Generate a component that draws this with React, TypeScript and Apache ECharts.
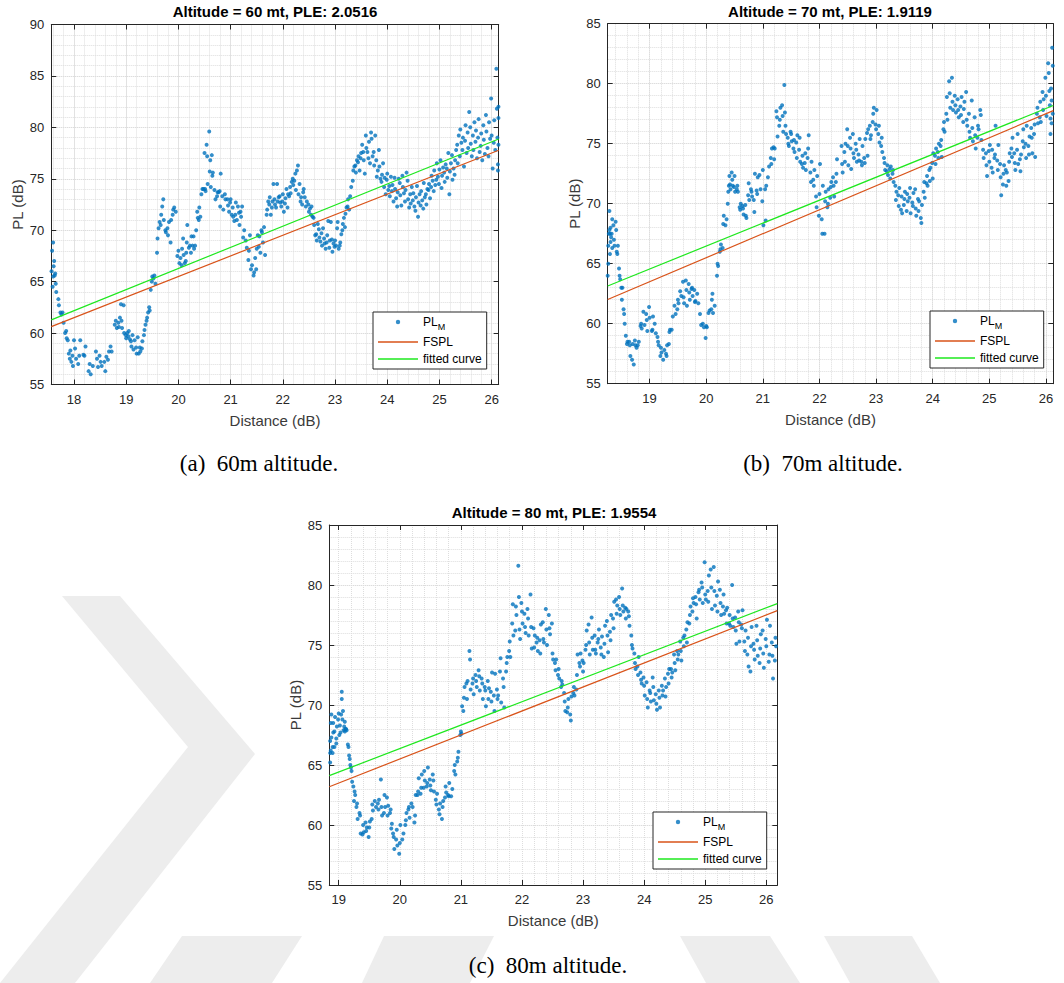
import React, { useEffect, useRef } from 'react';
import * as echarts from 'echarts';

// Measured path loss, flat [distance (dB), PL (dB), ...] pairs for each flight altitude
const measured60: number[] = [
  17.57,66.0, 17.58,68.0, 17.59,64.5, 17.6,68.8, 17.6,65.5, 17.61,66.5, 17.62,67.0, 17.63,65.6, 17.64,65.8,
  17.65,64.8, 17.66,64.0, 17.7,63.3, 17.71,62.7, 17.74,62.0, 17.76,61.8, 17.78,62.0,
  17.8,61.0, 17.83,60.0, 17.85,60.2, 17.86,59.5, 17.88,59.3,
  17.9,58.0, 17.92,57.5, 17.93,58.3, 17.95,57.2, 17.97,57.8, 17.98,56.8,
  18.0,59.3, 18.02,58.5, 18.04,57.5, 18.08,57.0, 18.1,57.8, 18.12,59.3, 18.18,57.9, 18.2,57.8, 18.22,58.7, 18.28,56.3, 18.3,57.0, 18.32,56.0, 18.36,56.8,
  18.42,58.2, 18.44,57.5, 18.46,56.7, 18.49,57.8, 18.51,57.2, 18.53,56.8, 18.58,57.2, 18.6,56.3, 18.62,57.7, 18.65,57.4, 18.67,58.2, 18.7,58.7, 18.72,58.2,
  18.78,60.8, 18.8,61.2, 18.82,60.5, 18.85,61.0, 18.86,60.6, 18.88,61.5, 18.9,62.8, 18.91,61.2, 18.92,60.5,
  18.95,62.7, 18.96,60.0, 18.99,59.8, 19.0,59.5, 19.02,60.0, 19.04,59.7, 19.05,60.2, 19.07,59.4, 19.09,59.2, 19.1,58.7, 19.12,59.8, 19.14,58.4, 19.16,59.3, 19.19,58.6, 19.2,58.0, 19.22,59.6, 19.24,58.0, 19.26,58.6, 19.27,58.2, 19.3,58.5, 19.31,59.2,
  19.34,59.8, 19.35,60.3, 19.37,60.8, 19.39,61.2, 19.4,61.5, 19.42,62.0, 19.44,62.5, 19.45,62.2, 19.47,64.2, 19.49,65.0, 19.5,65.5, 19.52,65.3, 19.54,65.6, 19.56,64.8,
  19.59,67.8, 19.6,69.2, 19.62,70.2, 19.64,70.8, 19.66,70.5, 19.67,71.5, 19.69,72.3, 19.71,73.0, 19.72,71.0, 19.75,70.0, 19.76,69.8, 19.79,70.2, 19.8,69.5, 19.82,70.8,
  19.85,68.8, 19.86,71.0, 19.89,71.5, 19.9,72.0, 19.92,72.2, 19.95,71.8, 19.98,67.5, 20.0,68.0, 20.02,66.8,
  20.04,67.3, 20.06,66.6, 20.07,68.2, 20.09,69.2, 20.1,67.6, 20.12,66.8, 20.14,67.0, 20.15,67.8, 20.16,68.8, 20.17,70.5, 20.2,68.3, 20.22,68.5, 20.24,67.8, 20.25,69.4, 20.27,68.5, 20.29,69.4, 20.3,68.2, 20.32,68.5,
  20.34,70.0, 20.36,71.8, 20.37,71.2, 20.39,71.0, 20.4,72.2, 20.42,71.3,
  20.44,73.5, 20.46,74.0, 20.48,74.0, 20.5,77.5, 20.51,74.0, 20.52,73.8, 20.54,78.3, 20.55,77.2, 20.56,74.5, 20.59,79.6, 20.6,75.7, 20.61,76.8, 20.62,74.2, 20.64,77.3, 20.65,75.3, 20.66,75.6, 20.69,73.9, 20.71,73.0,
  20.74,73.3, 20.75,73.7, 20.77,73.7, 20.79,73.8, 20.8,72.3, 20.81,75.5, 20.84,73.3, 20.86,72.0, 20.89,73.5, 20.9,73.0, 20.94,73.0, 20.95,72.4, 20.97,71.8, 20.99,72.7, 21.0,73.0, 21.02,71.5, 21.04,72.2, 21.05,71.3, 21.07,70.9, 21.09,71.5, 21.1,72.7, 21.12,71.0,
  21.14,72.3, 21.16,71.7, 21.17,70.5, 21.19,71.8, 21.2,71.3, 21.22,72.3,
  21.24,69.3, 21.26,70.0, 21.29,69.0, 21.31,68.3, 21.34,67.1, 21.35,68.0, 21.37,69.5, 21.39,66.2, 21.41,66.6, 21.44,65.6, 21.45,65.9, 21.47,67.3, 21.49,66.2, 21.5,68.2, 21.52,69.5,
  21.54,68.4, 21.55,69.4, 21.57,67.8, 21.59,70.0, 21.6,69.8, 21.62,68.8, 21.64,70.3, 21.66,67.6,
  21.69,71.5, 21.7,72.0, 21.72,72.8, 21.74,72.5, 21.75,73.2, 21.77,71.5, 21.79,72.2, 21.8,72.8, 21.82,74.5, 21.84,73.0, 21.85,72.5, 21.87,72.2, 21.89,74.5, 21.9,72.8, 21.92,73.2, 21.94,73.3, 21.95,72.7, 21.97,72.3, 21.99,72.8, 22.0,73.5, 22.02,71.8,
  22.04,72.6, 22.05,73.1, 22.07,74.0, 22.09,72.2, 22.1,73.5, 22.12,73.3, 22.14,74.2, 22.15,73.6, 22.17,74.7, 22.19,75.0, 22.2,74.4, 22.22,74.8, 22.24,75.5, 22.25,73.9, 22.27,75.8, 22.29,76.3, 22.3,73.5, 22.32,74.5, 22.34,72.8, 22.35,73.2, 22.37,72.5,
  22.39,73.7, 22.4,74.0, 22.42,73.2, 22.44,72.3, 22.46,72.8, 22.49,72.5, 22.5,71.8, 22.52,72.1, 22.54,71.5, 22.55,72.3, 22.57,71.3,
  22.59,71.2, 22.6,70.5, 22.62,69.5, 22.64,69.6, 22.65,69.0, 22.67,70.6, 22.69,70.1, 22.7,69.3, 22.72,68.9, 22.74,69.7, 22.75,68.5, 22.77,70.2, 22.79,69.2, 22.8,68.7, 22.82,68.2, 22.84,68.8, 22.85,69.5, 22.87,70.9, 22.89,68.3, 22.9,69.0, 22.92,70.8, 22.94,69.1, 22.95,67.9, 22.97,68.7, 22.99,68.4, 23.0,69.0, 23.02,68.5, 23.04,70.2, 23.05,70.8, 23.07,68.2, 23.09,68.5, 23.1,68.8, 23.12,69.6, 23.14,70.0, 23.15,70.6, 23.17,71.2, 23.19,70.3, 23.2,71.6, 23.22,72.2,
  23.24,72.3, 23.25,73.0, 23.27,72.0, 23.29,73.3, 23.31,74.2, 23.34,74.8, 23.35,75.8, 23.37,76.2, 23.39,76.3, 23.4,75.6, 23.42,76.8,
  23.44,76.6, 23.45,77.2, 23.47,75.8, 23.49,77.0, 23.5,77.5, 23.52,78.3, 23.54,77.6, 23.55,76.8, 23.57,75.5, 23.59,79.2, 23.6,78.0, 23.62,77.6, 23.64,77.0, 23.65,78.6, 23.67,76.5, 23.69,79.5, 23.7,78.9, 23.72,77.2, 23.74,77.6, 23.75,76.3, 23.77,79.2, 23.79,76.8, 23.8,75.2, 23.82,75.8, 23.84,77.8, 23.85,76.2, 23.87,75.0,
  23.89,74.7, 23.9,75.4, 23.92,76.5, 23.94,74.2, 23.95,75.1, 23.97,73.5, 23.99,74.9, 24.0,75.5, 24.02,73.9, 24.04,74.3, 24.05,73.3, 24.07,75.2, 24.09,73.8, 24.1,74.4, 24.12,72.8, 24.14,75.1, 24.15,74.0, 24.17,73.1, 24.19,72.3, 24.2,73.7, 24.22,75.0, 24.24,74.6, 24.25,73.4, 24.27,72.4, 24.29,75.3, 24.3,74.2, 24.32,73.6, 24.34,72.8, 24.35,73.9, 24.37,75.6, 24.39,74.8, 24.4,73.0, 24.42,72.2,
  24.44,73.5, 24.45,72.6, 24.47,74.2, 24.49,72.9, 24.5,73.6, 24.52,72.3, 24.54,71.9, 24.55,73.2, 24.57,74.3, 24.59,71.3, 24.6,72.7, 24.62,73.5, 24.64,72.4, 24.65,73.8, 24.67,72.9, 24.69,72.1, 24.7,74.6, 24.72,73.2, 24.74,73.5, 24.75,72.5, 24.77,74.0, 24.79,73.9, 24.8,74.5, 24.82,73.1,
  24.84,74.2, 24.85,75.3, 24.87,74.8, 24.89,73.8, 24.9,75.8, 24.92,74.4, 24.94,74.9, 24.95,76.5, 24.97,75.2, 24.99,74.5, 25.0,75.9, 25.02,76.8, 25.04,74.1, 25.05,75.3, 25.07,76.1, 25.09,75.6, 25.1,74.7, 25.12,76.4, 25.14,76.0, 25.15,75.1, 25.17,77.5, 25.19,73.5, 25.2,75.7, 25.22,76.5, 25.24,77.3, 25.25,74.9, 25.27,76.0, 25.29,75.4, 25.3,76.8, 25.32,77.8,
  25.34,78.3, 25.35,76.5, 25.37,79.2, 25.39,77.2, 25.4,79.8, 25.42,78.5, 25.44,77.8, 25.45,79.0, 25.47,76.2, 25.49,78.7, 25.5,80.2, 25.52,77.5, 25.54,79.5, 25.55,78.0, 25.57,81.5, 25.59,80.0, 25.6,78.4, 25.62,77.2, 25.64,79.2, 25.65,77.8, 25.67,80.5, 25.69,78.6, 25.7,79.7, 25.72,77.0,
  25.74,79.0, 25.75,80.8, 25.77,77.6, 25.79,78.2, 25.8,79.4, 25.82,76.8, 25.84,80.2, 25.85,78.8, 25.87,77.4, 25.89,81.2, 25.9,79.6, 25.92,78.0, 25.94,77.2, 25.95,80.5, 25.97,78.9, 25.99,82.8, 26.0,79.2, 26.02,76.0, 26.04,78.5, 26.05,80.7, 26.07,77.8, 26.09,85.7, 26.1,81.8, 26.11,79.0, 26.12,76.4, 26.13,80.9, 26.13,78.3, 26.12,75.8, 26.13,82.0,
];

const measured70: number[] = [
  18.26,64.0, 18.27,65.0, 18.27,66.5, 18.28,67.5, 18.29,69.4, 18.29,67.8, 18.3,65.8, 18.3,67.5, 18.31,66.8, 18.31,68.0, 18.32,67.2, 18.33,67.5, 18.34,66.3, 18.34,68.7, 18.36,68.2, 18.37,67.0, 18.38,66.5, 18.4,68.5, 18.41,67.8, 18.42,66.0, 18.43,65.8, 18.44,66.5,
  18.46,64.6, 18.47,64.0, 18.48,63.7, 18.5,63.0, 18.51,62.0, 18.52,63.0, 18.54,61.2, 18.55,60.8, 18.56,60.0, 18.58,59.0, 18.6,58.3, 18.61,58.5,
  18.64,58.5, 18.65,58.2, 18.66,57.3, 18.69,57.0, 18.7,58.3, 18.72,56.6, 18.74,58.6, 18.75,58.2, 18.77,58.0, 18.79,58.2, 18.81,58.5,
  18.84,59.8, 18.85,60.0, 18.86,59.6, 18.89,61.0, 18.91,59.9, 18.94,60.8, 18.95,60.3, 18.96,59.4, 18.99,61.4, 19.0,60.5, 19.04,59.4, 19.05,59.5, 19.06,60.6,
  19.09,60.0, 19.11,59.2, 19.14,58.9, 19.15,58.5, 19.16,58.2, 19.19,57.3, 19.2,58.0, 19.21,57.6, 19.24,57.0, 19.26,57.8, 19.29,57.5, 19.3,57.3, 19.31,58.2, 19.34,58.3, 19.35,59.3, 19.36,59.5,
  19.39,59.5, 19.41,60.6, 19.44,61.5, 19.46,60.8, 19.49,61.2, 19.5,62.0, 19.51,61.7, 19.54,62.7, 19.56,62.3, 19.59,63.5, 19.6,62.2, 19.61,61.7,
  19.64,63.6, 19.65,62.8, 19.66,61.5, 19.69,63.3, 19.7,62.6, 19.71,62.0, 19.74,62.9, 19.75,63.0, 19.76,62.3, 19.79,62.8, 19.8,61.8, 19.81,61.9, 19.84,62.5, 19.86,61.7, 19.89,60.8, 19.91,59.9,
  19.94,60.0, 19.96,59.7, 19.99,58.8, 20.0,59.8, 20.01,59.7, 20.04,60.9, 20.06,61.1, 20.09,61.2, 20.1,62.0, 20.11,62.5, 20.12,60.9, 20.15,61.5,
  20.19,64.0, 20.2,65.0, 20.21,64.8, 20.24,66.0, 20.25,66.2, 20.26,66.6, 20.29,66.3, 20.3,68.3, 20.31,69.0, 20.34,68.2, 20.36,68.7,
  20.38,70.0, 20.39,71.0, 20.4,71.5, 20.41,72.3, 20.42,71.6, 20.43,71.2, 20.45,72.6, 20.46,72.0, 20.47,71.5, 20.49,71.4, 20.5,72.3, 20.51,71.0, 20.54,71.2, 20.55,71.5, 20.56,71.0,
  20.59,69.7, 20.6,69.5, 20.61,70.0, 20.64,69.8, 20.65,69.6, 20.66,69.1, 20.69,69.9, 20.7,69.0, 20.71,68.8, 20.74,70.7, 20.75,71.7, 20.76,70.3, 20.79,71.2, 20.8,71.0, 20.81,70.6, 20.84,70.3, 20.85,69.3, 20.86,72.5, 20.89,71.1, 20.9,70.8, 20.91,72.2,
  20.94,72.4, 20.96,71.2, 20.99,70.2, 21.0,72.8, 21.01,68.2, 21.04,71.2, 21.05,68.6, 21.06,71.5, 21.09,72.2, 21.11,73.1,
  21.14,73.8, 21.15,73.3, 21.16,74.6, 21.19,74.7, 21.2,73.7, 21.21,74.6, 21.24,77.7, 21.25,77.2, 21.26,75.6, 21.29,76.5, 21.3,77.0, 21.31,78.0, 21.34,78.2, 21.35,77.3, 21.36,76.0, 21.38,79.9,
  21.39,77.6, 21.4,76.5, 21.41,75.8, 21.44,75.5, 21.45,75.0, 21.46,74.8, 21.49,76.0, 21.5,75.8, 21.51,75.2, 21.54,74.6, 21.55,75.3, 21.56,74.3, 21.59,75.1, 21.6,73.8, 21.61,75.7, 21.64,74.5, 21.65,75.5, 21.66,73.5, 21.69,73.3, 21.7,74.0, 21.71,73.0, 21.74,73.4, 21.75,74.2, 21.76,72.8, 21.79,73.8, 21.8,74.6, 21.81,75.7,
  21.84,72.6, 21.85,71.8, 21.86,73.5, 21.89,72.0, 21.9,71.5, 21.91,72.8, 21.94,70.6, 21.95,69.7, 21.96,72.3, 21.99,69.0, 22.0,70.8, 22.01,73.3, 22.04,68.7, 22.05,67.5, 22.06,71.5, 22.09,67.5, 22.1,70.2, 22.11,71.0, 22.14,69.7, 22.15,70.0, 22.16,71.2,
  22.19,70.5, 22.2,71.4, 22.21,71.8, 22.24,72.2, 22.25,71.5, 22.26,70.6, 22.29,71.8, 22.3,72.5, 22.31,73.7,
  22.39,74.8, 22.4,73.3, 22.41,72.6, 22.44,74.3, 22.45,73.5, 22.46,75.0, 22.49,76.2, 22.5,74.8, 22.51,73.2, 22.54,75.5, 22.55,74.6, 22.56,72.9, 22.59,75.8, 22.6,74.2, 22.61,73.8, 22.64,75.0, 22.65,74.5, 22.66,73.5, 22.69,74.1, 22.7,73.6, 22.71,75.4, 22.74,73.5, 22.75,73.2, 22.76,74.8, 22.79,73.8, 22.8,73.4, 22.81,75.4, 22.84,75.9, 22.85,74.0, 22.86,76.2, 22.89,76.5, 22.9,75.4, 22.91,75.7,
  22.94,76.8, 22.95,77.5, 22.96,78.0, 22.99,76.6, 23.0,76.2, 23.01,77.8, 23.04,75.8, 23.05,76.5, 23.06,75.1,
  23.09,74.8, 23.1,75.5, 23.11,74.3, 23.14,73.8, 23.15,73.4, 23.16,72.8, 23.19,72.7, 23.2,73.2, 23.21,72.4, 23.24,72.9, 23.25,72.1, 23.26,73.1, 23.29,72.5, 23.3,72.8, 23.31,71.8,
  23.34,71.5, 23.35,70.3, 23.36,71.0, 23.39,70.7, 23.4,69.8, 23.41,71.3, 23.44,69.5, 23.45,70.6, 23.46,69.2, 23.49,69.9, 23.5,70.4, 23.51,71.0, 23.54,69.4, 23.55,70.8, 23.56,70.2, 23.59,70.5, 23.6,71.3, 23.61,69.2, 23.64,70.1, 23.65,69.8, 23.66,70.9, 23.69,71.2, 23.7,69.6, 23.71,69.0, 23.74,70.4, 23.75,69.4, 23.76,70.2, 23.79,68.8, 23.8,68.4, 23.81,69.9, 23.84,71.0, 23.85,71.8, 23.86,70.5,
  23.89,71.7, 23.9,72.3, 23.91,71.5, 23.94,72.8, 23.95,71.9, 23.96,73.0, 23.99,73.4, 24.0,72.1, 24.01,74.2, 24.04,74.0, 24.05,73.3, 24.06,74.6, 24.09,74.3, 24.1,73.8, 24.11,75.0, 24.14,74.8, 24.15,75.3, 24.16,73.9, 24.19,76.2, 24.2,76.8, 24.21,76.0,
  24.24,77.5, 24.25,78.9, 24.26,77.0, 24.29,80.2, 24.3,79.2, 24.31,78.0, 24.34,80.5, 24.35,78.5, 24.36,77.8, 24.39,79.0, 24.4,78.2, 24.41,77.6, 24.44,78.7, 24.45,77.8, 24.46,77.2, 24.49,78.1, 24.5,77.4, 24.51,78.9, 24.54,76.8, 24.55,77.9, 24.56,78.5, 24.59,79.3, 24.6,77.0, 24.61,76.5, 24.64,77.5, 24.65,76.0, 24.66,75.5, 24.69,78.6, 24.7,76.3, 24.71,75.2,
  24.74,77.2, 24.75,75.7, 24.76,74.6, 24.79,75.5, 24.8,76.5, 24.81,76.2, 24.84,77.8, 24.85,77.4, 24.86,75.3,
  24.89,74.5, 24.9,73.8, 24.94,74.2, 24.95,73.2, 24.96,72.3, 24.99,74.4, 25.0,73.5, 25.01,74.9, 25.04,73.0, 25.05,74.5, 25.06,72.6, 25.09,73.8, 25.1,74.1, 25.11,76.5, 25.14,73.6, 25.15,72.8, 25.16,74.9, 25.19,73.3, 25.2,72.2, 25.21,70.7, 25.24,71.6, 25.25,72.5, 25.26,73.2, 25.29,72.8, 25.3,71.5, 25.31,72.6, 25.34,71.9, 25.35,73.5, 25.36,74.2, 25.39,74.6, 25.4,73.9, 25.41,75.5, 25.44,74.2, 25.45,73.4, 25.46,72.8,
  25.49,74.5, 25.5,75.8, 25.51,73.3, 25.54,73.7, 25.55,72.7, 25.56,74.1, 25.59,75.2, 25.6,76.2, 25.61,74.7, 25.64,75.0, 25.65,73.8, 25.66,76.5, 25.69,74.8, 25.7,74.1, 25.71,75.6, 25.74,76.3, 25.75,75.5, 25.76,74.2, 25.79,75.8, 25.8,76.6, 25.81,73.9,
  25.84,77.5, 25.85,78.0, 25.86,76.7, 25.89,77.2, 25.9,78.5, 25.91,76.8, 25.94,79.3, 25.95,77.8, 25.96,78.7, 25.99,80.5, 26.0,79.0, 26.01,77.3, 26.04,81.7, 26.05,80.9, 26.06,79.4, 26.07,78.2, 26.08,77.1, 26.08,75.8, 26.09,79.6, 26.1,78.6, 26.1,76.7, 26.11,83.0, 26.12,81.5, 26.12,77.5,
];

const measured80: number[] = [
  18.86,65.2, 18.86,66.0, 18.86,67.0, 18.87,68.5, 18.87,66.2, 18.88,67.3, 18.88,69.2, 18.9,66.0, 18.9,66.5, 18.91,67.7, 18.91,68.5, 18.93,66.5, 18.93,67.8, 18.94,69.0, 18.96,66.8, 18.96,67.2, 18.97,68.2,
  18.99,68.8, 19.0,69.3, 19.01,67.5, 19.02,68.3, 19.03,67.7, 19.04,69.2, 19.05,71.1, 19.05,70.5, 19.06,68.8, 19.07,69.5, 19.08,67.9, 19.09,68.2, 19.1,68.6, 19.1,67.8, 19.11,68.0, 19.12,68.0, 19.13,67.9,
  19.15,66.7, 19.16,66.5, 19.17,65.8, 19.18,65.5, 19.19,65.0, 19.2,64.8, 19.21,64.5, 19.22,63.6, 19.24,63.2, 19.26,62.8,
  19.25,62.0, 19.27,62.5, 19.29,61.5, 19.3,61.8, 19.31,60.5, 19.34,61.0, 19.35,60.8, 19.36,59.3, 19.39,59.2, 19.4,60.0, 19.41,59.4, 19.44,60.2, 19.45,59.5, 19.46,59.8, 19.49,59.0, 19.5,59.8, 19.51,60.3,
  19.54,60.5, 19.55,61.7, 19.56,61.2, 19.59,62.0, 19.61,61.5, 19.64,61.8, 19.65,61.3, 19.66,62.1, 19.69,63.8, 19.7,61.5, 19.71,60.8, 19.74,61.0, 19.75,62.5, 19.76,61.5, 19.79,62.3, 19.8,60.8, 19.81,61.6, 19.84,61.0, 19.85,61.3,
  19.86,59.7, 19.87,60.1, 19.89,59.3, 19.9,59.0, 19.91,58.0, 19.94,58.8, 19.95,59.6, 19.96,58.3, 19.99,57.6, 20.0,58.5, 20.01,60.0, 20.04,58.8, 20.06,59.3, 20.09,60.0, 20.1,60.4, 20.11,61.0,
  20.14,61.3, 20.15,61.5, 20.16,60.6, 20.19,61.8, 20.21,61.5, 20.24,60.2, 20.25,60.8, 20.26,62.5,
  20.29,62.5, 20.3,62.8, 20.31,63.9, 20.34,62.6, 20.35,63.1, 20.36,64.2, 20.39,63.1, 20.4,64.5, 20.41,63.7, 20.44,63.2, 20.45,63.5, 20.46,64.8, 20.49,63.8, 20.5,63.3, 20.51,62.9, 20.54,64.2, 20.55,63.7, 20.56,62.8, 20.59,62.1, 20.6,61.7, 20.61,62.6,
  20.64,61.3, 20.65,60.9, 20.66,61.8, 20.69,60.5, 20.7,61.5, 20.71,62.0, 20.74,62.3, 20.75,63.2, 20.76,62.7, 20.79,62.5, 20.8,62.4, 20.81,63.5, 20.84,62.4, 20.86,63.0,
  20.89,64.5, 20.9,65.0, 20.91,64.2, 20.94,65.3, 20.95,65.6, 20.96,66.1, 20.99,67.5, 21.0,67.8, 21.01,67.6,
  21.02,69.9, 21.04,69.5, 21.05,70.6, 21.06,71.5, 21.09,71.8, 21.1,70.5, 21.11,72.0, 21.14,74.5, 21.15,73.8, 21.16,71.3, 21.19,71.8, 21.2,72.2, 21.21,70.9,
  21.24,72.5, 21.25,72.0, 21.26,71.5, 21.29,72.9, 21.3,72.4, 21.31,71.2, 21.34,72.2, 21.35,71.8, 21.36,70.5, 21.39,71.5, 21.4,71.2, 21.41,69.9, 21.44,72.0, 21.45,70.5, 21.46,71.4, 21.49,71.1, 21.5,70.3, 21.51,72.7, 21.54,70.8, 21.55,69.5, 21.56,72.6, 21.59,71.3, 21.6,70.5, 21.61,70.8,
  21.64,72.8, 21.65,73.9, 21.66,70.2, 21.69,72.2, 21.7,71.5, 21.71,69.8, 21.74,72.8, 21.75,73.5, 21.76,74.0,
  21.79,74.5, 21.8,75.3, 21.81,74.0, 21.84,76.8, 21.85,78.4, 21.86,75.8, 21.89,76.2, 21.9,78.2, 21.91,77.5, 21.94,81.6, 21.95,79.0, 21.96,76.3, 21.97,75.5, 21.99,78.5, 22.0,77.8, 22.01,76.8, 22.04,77.6, 22.05,76.5, 22.06,76.0, 22.09,78.0, 22.1,77.2, 22.11,75.8, 22.14,79.2, 22.15,76.5, 22.16,74.7, 22.19,76.4, 22.2,74.8, 22.21,75.8,
  22.24,75.2, 22.25,75.6, 22.26,74.5, 22.29,75.4, 22.3,74.3, 22.31,76.7, 22.34,76.9, 22.35,75.5, 22.36,75.2, 22.39,78.0, 22.4,76.3, 22.41,75.0, 22.44,77.5, 22.45,76.4, 22.46,75.9, 22.49,76.8, 22.5,74.3, 22.51,73.8,
  22.54,73.5, 22.55,72.9, 22.56,73.8, 22.59,72.5, 22.6,73.0, 22.61,72.2, 22.64,71.5, 22.65,72.0, 22.66,71.7, 22.69,71.0, 22.7,70.3, 22.71,69.5, 22.74,69.4, 22.75,69.8, 22.76,70.5, 22.79,69.2, 22.8,68.7, 22.81,70.7, 22.84,71.0, 22.85,71.5, 22.86,70.8,
  22.89,71.3, 22.9,72.5, 22.91,74.2, 22.94,73.5, 22.95,73.2, 22.96,74.3, 22.99,73.7, 23.0,72.8, 23.01,73.5,
  23.04,74.6, 23.05,75.0, 23.06,76.2, 23.09,76.7, 23.1,75.2, 23.11,74.2, 23.14,77.3, 23.15,75.6, 23.16,74.6, 23.19,75.8, 23.2,74.6, 23.21,74.3, 23.24,75.2, 23.25,75.5, 23.26,76.3, 23.29,74.8, 23.3,74.2, 23.31,75.7, 23.34,74.0, 23.35,75.1, 23.36,76.6, 23.39,77.0, 23.4,75.8, 23.41,74.4, 23.44,76.1, 23.45,75.4, 23.46,77.5,
  23.49,77.2, 23.5,76.4, 23.51,78.6, 23.54,78.8, 23.55,77.6, 23.56,78.3, 23.59,79.0, 23.6,78.0, 23.61,77.5, 23.64,79.7, 23.65,78.3, 23.66,77.8, 23.69,78.1, 23.7,77.2, 23.71,78.0, 23.74,77.8, 23.75,77.4, 23.76,76.6, 23.79,75.8, 23.8,75.0, 23.81,74.7,
  23.84,74.3, 23.85,73.5, 23.86,73.0, 23.89,73.2, 23.9,72.5, 23.91,74.0, 23.94,72.7, 23.95,72.1, 23.96,71.8, 23.99,72.3, 24.0,71.6, 24.01,70.8, 24.04,71.9, 24.05,70.5, 24.06,69.8, 24.09,71.2, 24.1,71.0, 24.11,70.3, 24.14,72.3, 24.15,71.5, 24.16,70.4, 24.19,70.9, 24.2,70.1, 24.21,69.6, 24.24,71.2, 24.25,70.6, 24.26,69.8, 24.29,71.6, 24.3,70.8, 24.31,71.2,
  24.34,72.2, 24.35,70.7, 24.36,71.5, 24.39,72.6, 24.4,71.8, 24.41,73.0, 24.44,73.0, 24.45,72.3, 24.46,72.7, 24.49,74.2, 24.5,73.5, 24.51,72.9, 24.54,74.5, 24.55,73.8, 24.56,74.2, 24.59,75.3, 24.6,74.5, 24.61,73.7,
  24.64,75.6, 24.65,74.9, 24.66,75.8, 24.69,76.3, 24.7,75.2, 24.71,76.9, 24.74,76.8, 24.75,77.5, 24.76,78.2, 24.79,77.8, 24.8,78.9, 24.81,78.5, 24.84,79.0, 24.85,78.4, 24.86,77.2, 24.89,79.4, 24.9,79.6, 24.91,78.8, 24.94,80.2, 24.95,79.8, 24.96,78.5, 24.99,81.9, 25.0,79.2, 25.01,78.8,
  25.04,79.5, 25.05,78.6, 25.06,80.8, 25.09,81.3, 25.1,79.8, 25.11,78.0, 25.14,81.5, 25.15,79.5, 25.16,78.3, 25.19,79.1, 25.2,77.8, 25.21,80.3, 25.24,79.6, 25.25,78.5, 25.26,77.5, 25.29,78.2, 25.3,79.2, 25.31,77.6, 25.34,77.9, 25.35,76.8, 25.36,78.1,
  25.39,76.8, 25.4,77.5, 25.41,76.6, 25.44,80.0, 25.45,77.2, 25.46,76.5, 25.49,77.3, 25.5,76.2, 25.51,75.1, 25.54,77.8, 25.55,76.9, 25.56,75.3, 25.59,76.7, 25.6,76.4, 25.61,77.9,
  25.64,75.3, 25.65,74.5, 25.66,76.2, 25.69,74.2, 25.7,75.6, 25.71,73.2, 25.74,72.8, 25.75,74.9, 25.76,76.5, 25.79,75.1, 25.8,74.6, 25.81,73.8, 25.84,76.6, 25.85,75.4, 25.86,74.1, 25.89,73.5, 25.9,74.7, 25.91,75.9, 25.94,76.2, 25.95,74.3, 25.96,73.1, 25.99,75.5, 26.0,74.9, 26.01,77.1, 26.04,73.6, 26.05,74.2, 26.06,76.6, 26.09,75.2, 26.1,74.1, 26.11,72.2, 26.14,73.7, 26.15,75.6, 26.16,74.9,
];

const measurements = [measured60, measured70, measured80];
const altitudes = [60, 70, 80];
const pleValues = [2.0516, 1.9119, 1.9554];
const fittedIntercepts = [25.25, 28.23, 27.26];
const fsplExponent = 2;
const fsplIntercept = 25.5;
const xMins = [17.565, 18.26, 18.846];
const xMaxs = [26.135, 26.13, 26.18];
const yMins = [55, 55, 55];
const yMaxs = [90, 85, 85];
const xTickValues = [
  [18, 19, 20, 21, 22, 23, 24, 25, 26],
  [19, 20, 21, 22, 23, 24, 25, 26],
  [19, 20, 21, 22, 23, 24, 25, 26],
];
const captionLetters = ['(a)', '(b)', '(c)'];

const SANS = '"Liberation Sans", Arial, Helvetica, sans-serif';
const SERIF = '"Liberation Serif", "Times New Roman", serif';
const AXIS_COLOR = '#262626';
const DOT_COLOR = '#0072BD';
const FSPL_COLOR = '#D95319';
const FIT_COLOR = '#1EE81E';
const MARK_COLOR = '#ededed';

// Placement of each subplot on the page
const frames = [
  { left: 51.3, top: 24.5, width: 447.4, height: 360, legendLeft: 373, legendTop: 312, titleX: 275, titleY: 11, capX: 259, capY: 463 },
  { left: 607.7, top: 23.7, width: 445.6, height: 360, legendLeft: 930, legendTop: 311, titleX: 830, titleY: 11, capX: 823, capY: 463 },
  { left: 329.3, top: 525, width: 448, height: 360, legendLeft: 653, legendTop: 812, titleX: 554, titleY: 512, capX: 548, capY: 965 },
];

// Light background emblem behind the lower figure
const emblemShapes: number[][][] = [
  [[62, 596], [120, 596], [255, 754], [75, 983], [0, 983], [188, 747]],
  [[182, 936], [302, 936], [272, 983], [150, 983]],
  [[384, 936], [494, 936], [470, 983], [362, 983]],
  [[680, 936], [770, 936], [800, 983], [706, 983]],
  [[824, 936], [912, 936], [940, 983], [850, 983]],
];

function toPairs(flat: number[]): number[][] {
  const out: number[][] = [];
  for (let k = 0; k + 1 < flat.length; k += 2) out.push([flat[k], flat[k + 1]]);
  return out;
}

function minorSteps(min: number, max: number): number[] {
  const out: number[] = [];
  for (let v = Math.ceil(min * 5) / 5; v <= max + 1e-9; v += 0.2) out.push(Math.round(v * 10) / 10);
  return out;
}

const DOT_ICON = 'path://M0,0L0,0M40,14L40,14M17.8,7A2.2,2.2,0,1,1,22.2,7A2.2,2.2,0,1,1,17.8,7Z';
const LINE_ICON = 'path://M0,0L40,0L40,1.4L0,1.4Z';

function buildOption() {
  const grid: any[] = [];
  const xAxis: any[] = [];
  const yAxis: any[] = [];
  const series: any[] = [];
  const legend: any[] = [];
  const graphic: any[] = [];

  emblemShapes.forEach((points) => {
    graphic.push({ type: 'polygon', z: -20, silent: true, shape: { points }, style: { fill: MARK_COLOR } });
  });
  // white sheet of the lower figure
  graphic.push({ type: 'rect', z: -10, silent: true, shape: { x: 257, y: 488, width: 584, height: 448 }, style: { fill: '#ffffff' } });

  frames.forEach((f, i) => {
    grid.push({ left: f.left, top: f.top, width: f.width, height: f.height, containLabel: false });
    const xMin = xMins[i];
    const xMax = xMaxs[i];
    const lineStyle = { color: AXIS_COLOR, width: 1 };
    // bottom axis: labels, inward ticks and major grid
    xAxis.push({
      type: 'value', gridIndex: i, min: xMin, max: xMax, position: 'bottom',
      axisLine: { show: true, onZero: false, lineStyle },
      axisTick: { show: true, inside: true, length: 5, customValues: xTickValues[i], lineStyle },
      axisLabel: { show: true, customValues: xTickValues[i], margin: 8, color: AXIS_COLOR, fontSize: 13, fontFamily: SANS },
      splitLine: { show: true, lineStyle: { color: '#cfcfcf', type: 'dotted', width: 1 } },
      name: 'Distance (dB)', nameLocation: 'middle', nameGap: 28,
      nameTextStyle: { color: '#3a3a3a', fontSize: 15, fontFamily: SANS },
    });
    // top edge of the box
    xAxis.push({
      type: 'value', gridIndex: i, min: xMin, max: xMax, position: 'top',
      axisLine: { show: true, onZero: false, lineStyle },
      axisTick: { show: true, inside: true, length: 5, customValues: xTickValues[i], lineStyle },
      axisLabel: { show: false },
      splitLine: { show: false },
    });
    // minor vertical grid
    xAxis.push({
      type: 'value', gridIndex: i, min: xMin, max: xMax, position: 'bottom',
      axisLine: { show: false },
      axisTick: { show: false, customValues: minorSteps(xMin, xMax) },
      axisLabel: { show: false },
      splitLine: { show: true, lineStyle: { color: '#dddddd', type: 'dotted', width: 1 } },
    });
    yAxis.push({
      type: 'value', gridIndex: i, min: yMins[i], max: yMaxs[i], interval: 5, position: 'left',
      axisLine: { show: true, onZero: false, lineStyle },
      axisTick: { show: true, inside: true, length: 5, lineStyle },
      axisLabel: { margin: 7, color: AXIS_COLOR, fontSize: 13, fontFamily: SANS },
      splitLine: { show: true, lineStyle: { color: '#cfcfcf', type: 'dotted', width: 1 } },
      minorTick: { show: false, splitNumber: 5 },
      minorSplitLine: { show: true, lineStyle: { color: '#dddddd', type: 'dotted', width: 1 } },
      name: 'PL (dB)', nameLocation: 'middle', nameGap: 26,
      nameTextStyle: { color: '#3a3a3a', fontSize: 15, fontFamily: SANS },
    });
    yAxis.push({
      type: 'value', gridIndex: i, min: yMins[i], max: yMaxs[i], interval: 5, position: 'right',
      axisLine: { show: true, onZero: false, lineStyle },
      axisTick: { show: true, inside: true, length: 5, lineStyle },
      axisLabel: { show: false },
      splitLine: { show: false },
    });

    const xAxisIndex = i * 3;
    const yAxisIndex = i * 2;
    series.push({
      type: 'scatter', name: 'PL_M', xAxisIndex, yAxisIndex,
      data: toPairs(measurements[i]),
      symbol: 'circle', symbolSize: 4,
      itemStyle: { color: DOT_COLOR },
      z: 2,
    });
    series.push({
      type: 'line', name: 'FSPL', xAxisIndex, yAxisIndex,
      data: [xMin, xMax].map((x) => [x, fsplExponent * x + fsplIntercept]),
      symbol: 'none', lineStyle: { color: FSPL_COLOR, width: 1.2 }, itemStyle: { color: FSPL_COLOR },
      z: 3,
    });
    series.push({
      type: 'line', name: 'fitted curve', xAxisIndex, yAxisIndex,
      data: [xMin, xMax].map((x) => [x, pleValues[i] * x + fittedIntercepts[i]]),
      symbol: 'none', lineStyle: { color: FIT_COLOR, width: 1.2 }, itemStyle: { color: FIT_COLOR },
      z: 3,
    });

    legend.push({
      orient: 'vertical', left: f.legendLeft, top: f.legendTop,
      itemWidth: 40, itemHeight: 14, itemGap: 5, padding: [3, 5, 4, 5],
      backgroundColor: '#ffffff', borderColor: AXIS_COLOR, borderWidth: 1, borderRadius: 0,
      selectedMode: false, z: 10,
      textStyle: {
        color: '#000', fontSize: 12, fontFamily: SANS,
        rich: {
          m: { fontSize: 12, fontFamily: SANS, color: '#000' },
          s: { fontSize: 9, fontFamily: SANS, color: '#000', padding: [9, 0, 0, 0] },
        },
      },
      formatter: (name: string) => (name === 'PL_M' ? '{m|PL}{s|M}' : name),
      data: [
        { name: 'PL_M', icon: DOT_ICON, itemStyle: { color: DOT_COLOR } },
        { name: 'FSPL', icon: LINE_ICON, itemStyle: { color: FSPL_COLOR } },
        { name: 'fitted curve', icon: LINE_ICON, itemStyle: { color: FIT_COLOR } },
      ],
    });

    graphic.push({
      type: 'text', x: f.titleX, y: f.titleY, z: 20,
      style: {
        text: `Altitude = ${altitudes[i]} mt, PLE: ${pleValues[i].toFixed(4)}`,
        fill: '#000', font: `bold 15px ${SANS}`, align: 'center', verticalAlign: 'middle',
      },
    });
    graphic.push({
      type: 'text', x: f.capX, y: f.capY, z: 20,
      style: {
        text: `${captionLetters[i]}\u00a0 ${altitudes[i]}m altitude.`,
        fill: '#000', font: `23px ${SERIF}`, align: 'center', verticalAlign: 'middle',
      },
    });
  });

  return {
    animation: false,
    backgroundColor: '#ffffff',
    textStyle: { fontFamily: SANS },
    grid, xAxis, yAxis, series, legend, graphic,
  };
}

export default function App() {
  const ref = useRef<HTMLDivElement>(null);
  useEffect(() => {
    if (!ref.current) return;
    const chart = echarts.init(ref.current, null, { renderer: 'svg' });
    chart.setOption(buildOption() as any);
    return () => chart.dispose();
  }, []);
  return (
    <div
      ref={ref}
      style={{ position: 'absolute', left: 0, top: 0, width: 1064, height: 983, background: '#fff' }}
    />
  );
}
